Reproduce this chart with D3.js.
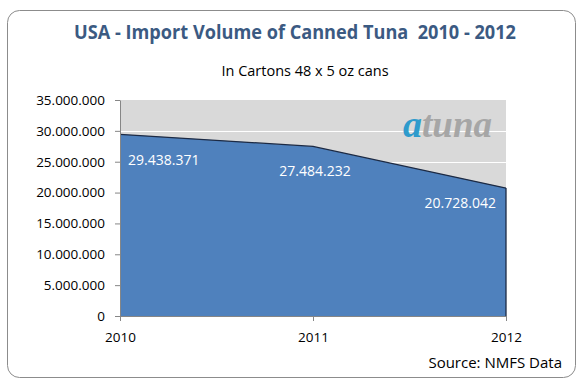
<!DOCTYPE html>
<html>
<head>
<meta charset="utf-8">
<script src="https://cdn.jsdelivr.net/npm/d3@7"></script>
<style>
  body { margin: 0; background: #fff; }
  .logo { font-family: "Liberation Serif", "DejaVu Serif", serif; font-weight: bold; font-style: italic; }
</style>
</head>
<body>
<div id="chart"></div>
<script>
const svgWidth = 583;
const svgHeight = 391;

const years = [2010, 2011, 2012];
const volumes = [29438371, 27484232, 20728042];
const yTicks = [0, 5000000, 10000000, 15000000, 20000000, 25000000, 30000000, 35000000];

const plotLeft = 120;
const plotRight = 506;
const plotTop = 100;
const plotBottom = 316;
const sans = "'Open Sans', sans-serif";

const data = years.map((y, i) => ({ year: y, value: volumes[i] }));

const xScale = d3.scalePoint()
    .domain(years)
    .range([plotLeft, plotRight]);
const yScale = d3.scaleLinear()
    .domain([0, 35000000])
    .range([plotBottom, plotTop]);

// numbers with dots as thousand separators
const fmt = d3.formatLocale({ decimal: ",", thousands: ".", grouping: [3], currency: ["", ""] }).format(",d");

const svg = d3.select("#chart")
    .append("svg")
    .attr("width", svgWidth)
    .attr("height", svgHeight)
    .attr("font-family", sans);

// outer frame
svg.append("rect")
    .attr("x", 7.5)
    .attr("y", 10.5)
    .attr("width", 568)
    .attr("height", 367)
    .attr("rx", 12)
    .attr("fill", "#fff")
    .attr("stroke", "#8c8c8c")
    .attr("stroke-width", 1);

// titles
svg.append("text")
    .attr("x", 295)
    .attr("y", 39)
    .attr("text-anchor", "middle")
    .attr("font-size", 19)
    .attr("font-weight", "bold")
    .attr("fill", "#3b5a82")
    .attr("textLength", 442)
    .attr("lengthAdjust", "spacingAndGlyphs")
    .style("white-space", "pre")
    .text("USA - Import Volume of Canned Tuna  2010 - 2012");

svg.append("text")
    .attr("x", 305)
    .attr("y", 76)
    .attr("text-anchor", "middle")
    .attr("font-size", 14.5)
    .attr("fill", "#000")
    .text("In Cartons 48 x 5 oz cans");

// plot background
svg.append("rect")
    .attr("x", plotLeft)
    .attr("y", plotTop)
    .attr("width", plotRight - plotLeft)
    .attr("height", plotBottom - plotTop)
    .attr("fill", "#d9d9d9");

// gridlines
svg.append("g")
    .selectAll("line")
    .data(yTicks.slice(1, -1))
    .enter()
    .append("line")
    .attr("x1", plotLeft)
    .attr("x2", plotRight)
    .attr("y1", d => Math.round(yScale(d)) + 0.5)
    .attr("y2", d => Math.round(yScale(d)) + 0.5)
    .attr("stroke", "#fff")
    .attr("stroke-width", 1);

// watermark logo
const logoA = svg.append("text")
    .attr("class", "logo")
    .attr("x", 403)
    .attr("y", 137)
    .attr("font-size", 38)
    .attr("fill", "#2e9bcc")
    .text("a");
const aWidth = logoA.node().getComputedTextLength();
svg.append("text")
    .attr("class", "logo")
    .attr("x", 403 + aWidth)
    .attr("y", 137)
    .attr("font-size", 38)
    .attr("fill", "#a6a6a6")
    .attr("textLength", 492 - 403 - aWidth)
    .attr("lengthAdjust", "spacingAndGlyphs")
    .text("tuna");

// area
const area = d3.area()
    .x(d => xScale(d.year))
    .y0(yScale(0))
    .y1(d => yScale(d.value));

svg.append("path")
    .datum(data)
    .attr("d", area)
    .attr("fill", "#4f81bd");

const line = d3.line()
    .x(d => xScale(d.year))
    .y(d => yScale(d.value));

svg.append("path")
    .datum(data)
    .attr("d", line)
    .attr("fill", "none")
    .attr("stroke", "#1c2a44")
    .attr("stroke-width", 1.3);

// right edge of area
const last = data[data.length - 1];
svg.append("line")
    .attr("x1", xScale(last.year))
    .attr("x2", xScale(last.year))
    .attr("y1", yScale(last.value))
    .attr("y2", yScale(0))
    .attr("stroke", "#1c2a44")
    .attr("stroke-width", 1.3);

// data labels
const labelAnchor = ["start", "middle", "end"];
const labelDx = [8, 2, -10];
const labelDy = [31, 30, 20];
svg.append("g")
    .selectAll("text")
    .data(data)
    .enter()
    .append("text")
    .attr("x", (d, i) => xScale(d.year) + labelDx[i])
    .attr("y", (d, i) => yScale(d.value) + labelDy[i])
    .attr("text-anchor", (d, i) => labelAnchor[i])
    .attr("font-size", 14)
    .attr("fill", "#fff")
    .text(d => fmt(d.value));

// axes
const yAxis = d3.axisLeft(yScale)
    .tickValues(yTicks)
    .tickFormat(fmt)
    .tickSizeInner(5)
    .tickSizeOuter(0)
    .tickPadding(10);

const xAxis = d3.axisBottom(xScale)
    .tickSizeInner(5)
    .tickSizeOuter(0)
    .tickPadding(11);

const gy = svg.append("g")
    .attr("transform", `translate(${plotLeft}, 0)`)
    .call(yAxis);

const gx = svg.append("g")
    .attr("transform", `translate(0, ${plotBottom})`)
    .call(xAxis);

[gx, gy].forEach(g => {
    g.select(".domain").attr("stroke", "#868686");
    g.selectAll(".tick line").attr("stroke", "#868686");
    g.selectAll(".tick text")
        .attr("font-family", sans)
        .attr("font-size", 13.5)
        .attr("fill", "#000");
});

// source
svg.append("text")
    .attr("x", 562)
    .attr("y", 368)
    .attr("text-anchor", "end")
    .attr("font-size", 15)
    .attr("fill", "#000")
    .text("Source: NMFS Data");
</script>
</body>
</html>
